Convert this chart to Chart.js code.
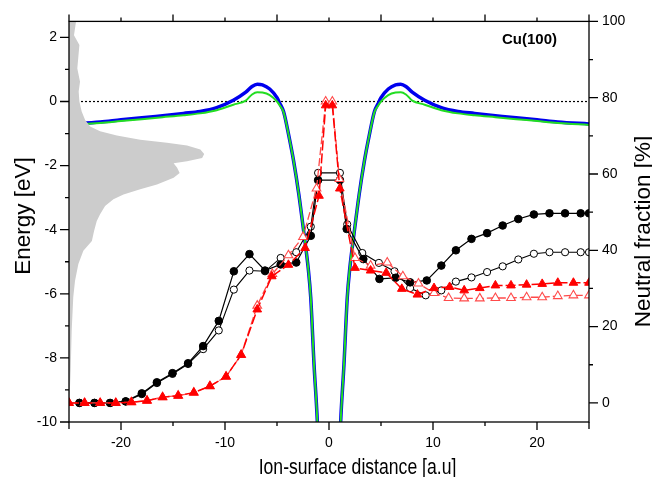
<!DOCTYPE html>
<html><head><meta charset="utf-8">
<script src="https://cdn.jsdelivr.net/npm/chart.js@4.4.1/dist/chart.umd.min.js"></script>
<style>html,body{margin:0;padding:0;background:#fff;overflow:hidden}canvas{display:block}</style>
</head><body>
<canvas id="c" width="652" height="477"></canvas>
<script>
// ---- tick labels ----
const xTickValues = [-20, -10, 0, 10, 20];
const energyTickValues = [-10, -8, -6, -4, -2, 0, 2];
const fractionTickValues = [0, 20, 40, 60, 80, 100];

// ---- gray density-of-states profile (edge x vs energy) ----
const dosE = [2.7, 2.48, 2.07, 1.76, 1.03, 0.62, 0.31, 0, -0.31, -0.57, -0.78, -0.93, -1.06, -1.19, -1.29, -1.37, -1.50, -1.64, -1.76, -1.86, -1.93, -2.07, -2.23, -2.38, -2.59, -2.74, -2.90, -3.05, -3.26, -3.52, -3.73, -4.04, -4.35, -4.66, -5.07, -5.59, -6.11, -7.14, -8.39, -9.42, -10.5];
const dosX = [-24.35, -24.33, -24.52, -24.0, -24.2, -23.94, -24.07, -24.0, -23.78, -23.46, -22.97, -22.01, -20.4, -18.15, -15.58, -13.65, -12.37, -12.0, -12.2, -13.65, -14.94, -14.6, -14.36, -14.94, -16.54, -18.15, -19.76, -20.73, -21.53, -22.01, -22.33, -22.59, -22.8, -23.62, -24.1, -24.42, -24.59, -24.74, -24.84, -24.97, -25.0];

// ---- energy level curves ----
const levelX = [-25, -22, -20, -18, -16, -14, -12.4, -10.8, -9.2, -8.0, -7.4, -6.9, -6.4, -5.7, -5.0, -4.7, -4.37, -3.88, -3.4, -2.9, -2.4, -2.0, -1.76, -1.44, -1.12, -0.95, 0,
                0.95, 1.12, 1.44, 1.76, 2.0, 2.4, 2.9, 3.4, 3.88, 4.37, 4.7, 5.0, 5.7, 6.4, 6.9, 7.4, 8.0, 9.2, 10.8, 12.4, 14, 16, 18, 20, 22, 25];
const blueE = [-0.70, -0.64, -0.57, -0.51, -0.44, -0.37, -0.31, -0.19, 0.04, 0.29, 0.47, 0.54, 0.52, 0.39, 0.12, -0.08, -0.31, -1.04, -1.86, -2.9, -4.14, -5.2, -6.1, -8.2, -10, -11.5, null,
               -11.5, -10, -8.2, -6.1, -5.2, -4.14, -2.9, -1.86, -1.04, -0.31, -0.08, 0.12, 0.39, 0.52, 0.54, 0.47, 0.29, 0.04, -0.19, -0.31, -0.37, -0.44, -0.51, -0.57, -0.64, -0.70];
const greenE = [-0.73, -0.67, -0.61, -0.55, -0.49, -0.43, -0.37, -0.27, -0.10, 0.03, 0.22, 0.29, 0.28, 0.20, 0.0, -0.14, -0.33, -1.04, -1.86, -2.9, -4.14, -5.2, -6.1, -8.2, -10, -11.5, null,
                -11.5, -10, -8.2, -6.1, -5.2, -4.14, -2.9, -1.86, -1.04, -0.33, -0.14, 0.0, 0.20, 0.28, 0.29, 0.22, 0.03, -0.10, -0.27, -0.37, -0.43, -0.49, -0.55, -0.61, -0.67, -0.73];
const fermiX = [-25, 25];
const fermiE = [0, 0];

// ---- neutral fraction series ----
const fcX = [-24, -22.55, -21.05, -19.55, -18, -16.55, -15.05, -13.55, -12.1, -10.6, -9.15, -7.65, -6.15, -4.65, -3.15, -1.75, -1.05, 1.05, 1.7, 3.3, 4.85, 6.4, 7.8, 9.4, 10.8, 12.2, 13.7, 15.2, 16.7, 18.2, 19.7, 21.2, 22.7, 24.2, 25];
const fcY = [0, 0, 0, 0.4, 2.5, 5.4, 7.8, 10.4, 14.9, 21.5, 34.5, 39.0, 34.7, 36.3, 36.8, 43.8, 58.4, 58.4, 45.6, 37.7, 32.5, 32.8, 31.6, 32.1, 36.0, 40.0, 43.0, 44.5, 46.5, 48.2, 49.4, 49.7, 49.7, 49.7, 49.7];
const ocX = [-24, -22.55, -21.05, -19.55, -18, -16.55, -15.05, -13.55, -12.1, -10.6, -9.15, -7.65, -6.15, -4.65, -3.15, -1.75, -1.05, 1.05, 1.75, 3.2, 4.8, 6.3, 7.8, 9.3, 10.8, 12.2, 13.7, 15.2, 16.7, 18.2, 19.7, 21.2, 22.7, 24.2, 25];
const ocY = [0, 0, 0, 0.4, 2.3, 5.2, 7.6, 10.2, 14.1, 19.0, 29.7, 34.7, 34.5, 38.0, 39.5, 46.2, 60.3, 60.3, 46.8, 39.3, 36.7, 34.5, 30.1, 28.2, 29.5, 31.8, 32.9, 34.3, 35.8, 37.6, 39.1, 39.5, 39.5, 39.5, 39.5];
const ftX = [-25, -23.5, -22, -20.5, -19, -17.5, -16, -14.5, -13, -11.45, -9.9, -8.45, -6.9, -5.5, -3.9, -2.3, -0.96, -0.32, 0.32, 1.04, 2.5, 4.0, 5.5, 7.0, 8.5, 10.1, 11.6, 13.0, 14.5, 16.0, 17.5, 19.0, 20.5, 22.0, 23.5, 25.0];
const ftY = [0, 0, 0, 0, 0.2, 0.6, 1.5, 1.9, 2.7, 4.4, 6.9, 12.6, 24.5, 33.2, 36.2, 40.6, 54.3, 78, 78, 56.2, 35.4, 34.7, 34.1, 29.9, 28.4, 30.1, 30.4, 29.5, 30.1, 30.8, 30.8, 31.0, 31.2, 31.5, 31.5, 31.5];
const otX = [-25, -23.5, -22, -20.5, -19, -17.5, -16, -14.5, -13, -11.45, -9.9, -8.45, -6.9, -5.45, -3.9, -2.5, -1.2, -0.32, 0.32, 1.0, 2.5, 4.0, 5.6, 7.1, 8.6, 10.1, 11.5, 13.0, 14.5, 16.0, 17.5, 19.0, 20.5, 22.0, 23.5, 25.0];
const otY = [0, 0, 0, 0, 0.2, 0.6, 1.5, 1.9, 2.7, 4.4, 6.9, 12.6, 25.5, 33.8, 38.7, 43.5, 56.2, 79, 79, 58.7, 38.0, 36.0, 36.8, 33.2, 31.3, 28.8, 27.5, 27.4, 27.4, 27.5, 27.5, 27.7, 27.7, 28.0, 28.2, 28.2];

const pts = (xs, ys) => xs.map((x, i) => ({x: x, y: ys[i]}));
// closed outline of the DOS shape, closed along the left axis
const dosShape = pts(dosX, dosE).concat([{x: -25, y: dosE[0]}]);

const FONT = '"Liberation Sans", Arial, Helvetica, sans-serif';

const frame = {
  id: 'frame',
  afterDraw(chart) {
    const {ctx, chartArea: a, scales} = chart;
    const sx = scales.x, sy = scales.y, sy2 = scales.y2;
    ctx.save();
    ctx.strokeStyle = '#000';
    ctx.lineWidth = 1.3;
    ctx.strokeRect(a.left, a.top, a.right - a.left, a.bottom - a.top);
    ctx.beginPath();
    for (let v = -25; v <= 25; v += 5) {
      const px = sx.getPixelForValue(v);
      const major = v % 10 === 0;
      const lb = Math.abs(v) === 25 ? 7 : (major ? 8 : 4);
      ctx.moveTo(px, a.bottom); ctx.lineTo(px, a.bottom + lb);
      const lt = major ? 4 : 7;
      ctx.moveTo(px, a.top); ctx.lineTo(px, a.top - lt);
    }
    for (let v = -10; v <= 2; v++) {
      const py = sy.getPixelForValue(v);
      const len = v % 2 === 0 ? 9 : 4;
      ctx.moveTo(a.left, py); ctx.lineTo(a.left - len, py);
    }
    for (let v = 0; v <= 100; v += 10) {
      const py = sy2.getPixelForValue(v);
      const len = v % 20 === 0 ? 9 : 4;
      ctx.moveTo(a.right, py); ctx.lineTo(a.right + len, py);
    }
    ctx.stroke();

    ctx.fillStyle = '#000';
    ctx.textAlign = 'center';
    ctx.textBaseline = 'alphabetic';
    ctx.save();
    ctx.font = '22.5px ' + FONT;
    ctx.translate(30, 216);
    ctx.rotate(-Math.PI / 2);
    ctx.fillText('Energy [eV]', 0, 0);
    ctx.restore();
    ctx.save();
    ctx.font = '22.5px ' + FONT;
    ctx.translate(650, 231.5);
    ctx.rotate(-Math.PI / 2);
    ctx.fillText('Neutral fraction [%]', 0, 0);
    ctx.restore();
    ctx.save();
    ctx.font = '22px ' + FONT;
    ctx.translate(357.5, 474);
    ctx.scale(0.8, 1);
    ctx.fillText('Ion-surface distance [a.u]', 0, 0);
    ctx.restore();
    ctx.font = 'bold 15px ' + FONT;
    ctx.fillText('Cu(100)', 529.5, 43.5);
    ctx.restore();
  }
};

const tickFont = {family: FONT, size: 14};

new Chart(document.getElementById('c'), {
  type: 'line',
  data: {
    datasets: [
      {label: 'filled triangles', data: pts(ftX, ftY), yAxisID: 'y2', borderColor: '#ff0000', borderWidth: 1.5, borderDash: [10, 3],
       pointStyle: 'triangle', pointRadius: 5, pointBackgroundColor: '#ff0000', pointBorderColor: '#ff0000', pointBorderWidth: 1, fill: false, clip: 0},
      {label: 'open triangles', data: pts(otX, otY), yAxisID: 'y2', borderColor: '#ff4a4a', borderWidth: 1.3, borderDash: [8, 3],
       pointStyle: 'triangle', pointRadius: 5, pointBackgroundColor: '#ffffff', pointBorderColor: '#ff4a4a', pointBorderWidth: 1.1, fill: false, clip: 0},
      {label: 'filled circles', data: pts(fcX, fcY), yAxisID: 'y2', borderColor: '#000', borderWidth: 1.2,
       pointStyle: 'circle', pointRadius: 3.8, pointBackgroundColor: '#000', pointBorderColor: '#000', pointBorderWidth: 1, fill: false, clip: 0},
      {label: 'open circles', data: pts(ocX, ocY), yAxisID: 'y2', borderColor: '#000', borderWidth: 1.1,
       pointStyle: 'circle', pointRadius: 3.6, pointBackgroundColor: '#fff', pointBorderColor: '#000', pointBorderWidth: 1, fill: false, clip: 0},
      {label: 'DOS', data: dosShape, yAxisID: 'y', borderWidth: 0, borderColor: 'rgba(0,0,0,0)', backgroundColor: '#cccccc',
       fill: 'shape', pointRadius: 0, tension: 0, clip: 0},
      {label: 'green', data: pts(levelX, greenE), yAxisID: 'y', borderColor: '#22dd22', borderWidth: 2, pointRadius: 0,
       cubicInterpolationMode: 'monotone', fill: false, spanGaps: false, clip: 0},
      {label: 'blue', data: pts(levelX, blueE), yAxisID: 'y', borderColor: '#0000ee', borderWidth: 3.5, pointRadius: 0,
       cubicInterpolationMode: 'monotone', fill: false, spanGaps: false, clip: 0},
      {label: 'Fermi', data: pts(fermiX, fermiE), yAxisID: 'y', borderColor: '#000', borderWidth: 1.2, borderDash: [2, 2], pointRadius: 0, fill: false, clip: 0}
    ]
  },
  options: {
    responsive: false,
    animation: false,
    devicePixelRatio: 1,
    layout: {padding: {top: 19, left: 0, right: 0, bottom: 0}},
    plugins: {legend: {display: false}, tooltip: {enabled: false}},
    scales: {
      x: {type: 'linear', position: 'bottom', min: -25, max: 25,
          afterBuildTicks: s => { s.ticks = xTickValues.map(v => ({value: v})); },
          afterFit: s => { s.height = 55; },
          grid: {display: false, drawTicks: false}, border: {display: false},
          ticks: {font: tickFont, color: '#000', padding: 13, maxRotation: 0, autoSkip: false, callback: v => String(v)}},
      y: {type: 'linear', position: 'left', min: -10, max: 2.5,
          afterBuildTicks: s => { s.ticks = energyTickValues.map(v => ({value: v})); },
          afterFit: s => { s.width = 69; },
          grid: {display: false, drawTicks: false}, border: {display: false},
          ticks: {font: tickFont, color: '#000', padding: 12, autoSkip: false, callback: v => String(v)}},
      y2: {type: 'linear', position: 'right', min: -5, max: 100,
          afterBuildTicks: s => { s.ticks = fractionTickValues.map(v => ({value: v})); },
          afterFit: s => { s.width = 63; },
          grid: {display: false, drawTicks: false}, border: {display: false},
          ticks: {font: tickFont, color: '#000', padding: 13, autoSkip: false, callback: v => String(v)}}
    }
  },
  plugins: [frame]
});
</script>
</body></html>
